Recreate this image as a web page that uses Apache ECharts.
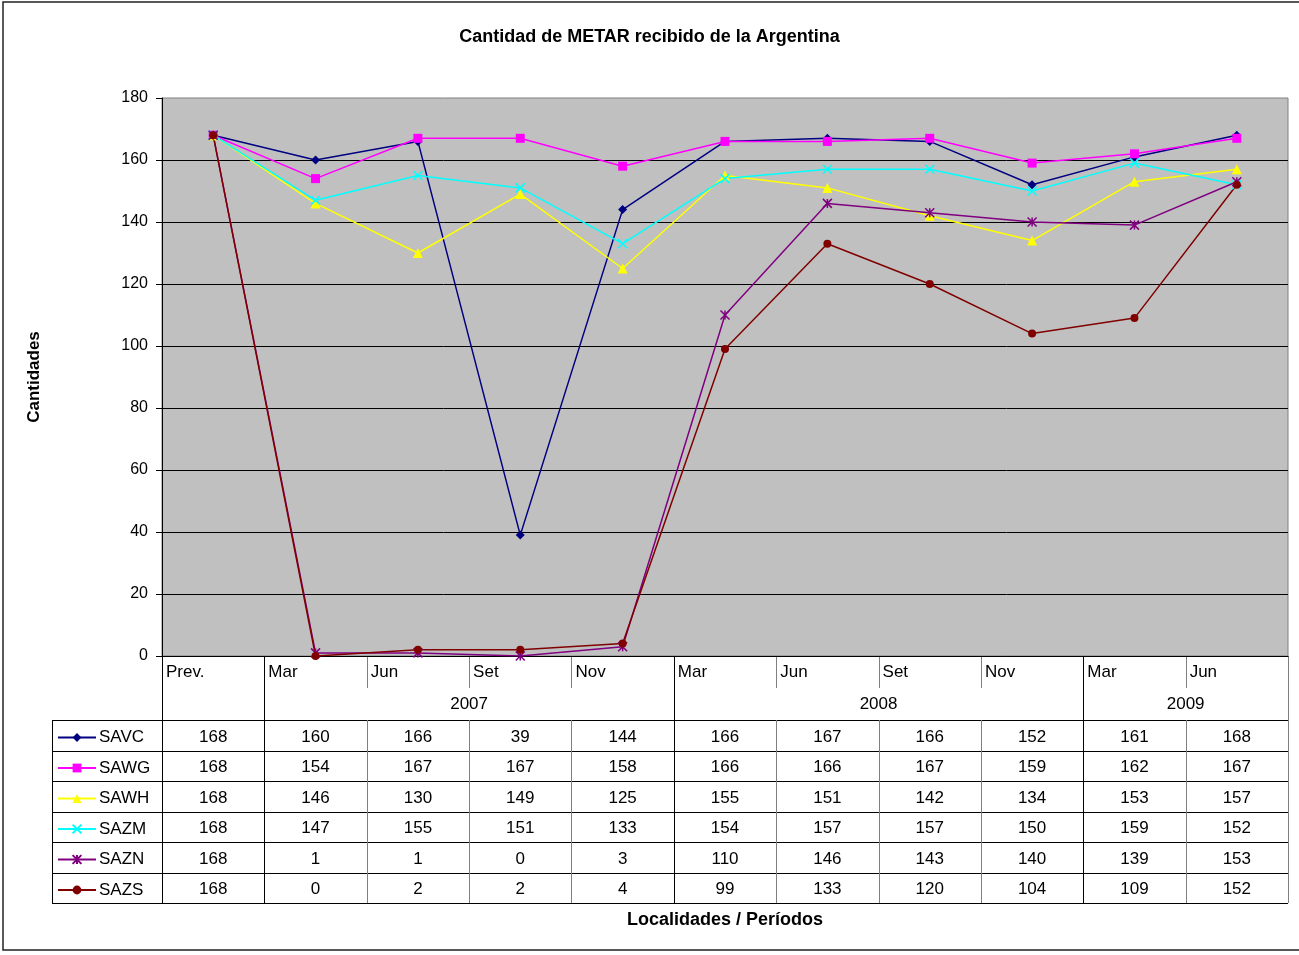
<!DOCTYPE html>
<html>
<head>
<meta charset="utf-8">
<script src="https://cdn.jsdelivr.net/npm/echarts@6/dist/echarts.min.js"></script>
<style>
  html, body { margin: 0; padding: 0; background: #fff; }
  #chart { width: 1299px; height: 955px; }
</style>
</head>
<body>
<div id="chart"></div>
<script>
// periodos (eje X)
var months = ['Prev.', 'Mar', 'Jun', 'Set', 'Nov', 'Mar', 'Jun', 'Set', 'Nov', 'Mar', 'Jun'];
// años: [etiqueta, indice desde, indice hasta]
var years = [['2007', 1, 4], ['2008', 5, 8], ['2009', 9, 10]];
var yTicks = [0, 20, 40, 60, 80, 100, 120, 140, 160, 180];

var SAVC = [168, 160, 166, 39, 144, 166, 167, 166, 152, 161, 168];
var SAWG = [168, 154, 167, 167, 158, 166, 166, 167, 159, 162, 167];
var SAWH = [168, 146, 130, 149, 125, 155, 151, 142, 134, 153, 157];
var SAZM = [168, 147, 155, 151, 133, 154, 157, 157, 150, 159, 152];
var SAZN = [168, 1, 1, 0, 3, 110, 146, 143, 140, 139, 153];
var SAZS = [168, 0, 2, 2, 4, 99, 133, 120, 104, 109, 152];

var FONT = 'Arial, "Liberation Sans", sans-serif';
var GL = 162, GR = 1288, GT = 98, GB = 656;   // area del grafico
var HEAD_B = 720, ROW_H = 30.5, LEG_L = 52;

var seriesDefs = [
  { name: 'SAVC', data: SAVC, color: '#000080', symbol: 'diamond', size: 9 },
  { name: 'SAWG', data: SAWG, color: '#FF00FF', symbol: 'rect', size: 9 },
  { name: 'SAWH', data: SAWH, color: '#FFFF00', symbol: 'triangle', size: 10 },
  { name: 'SAZM', data: SAZM, color: '#00FFFF', symbol: 'path://M0,0L10,10M10,0L0,10', size: 9, stroke: true },
  { name: 'SAZN', data: SAZN, color: '#800080', symbol: 'path://M0,0L10,10M10,0L0,10M5,0L5,10', size: 9, stroke: true },
  { name: 'SAZS', data: SAZS, color: '#800000', symbol: 'circle', size: 8 }
];

var chart = echarts.init(document.getElementById('chart'));

var series = seriesDefs.map(function (s) {
  return {
    name: s.name,
    type: 'line',
    data: s.data,
    symbol: s.symbol,
    symbolSize: s.size,
    showAllSymbol: true,
    animation: false,
    lineStyle: { color: s.color, width: 1.5 },
    itemStyle: s.stroke
      ? { color: 'rgba(0,0,0,0)', borderColor: s.color, borderWidth: 1.5 }
      : { color: s.color, borderWidth: 0 }
  };
});

// tabla de datos
var graphic = [];
var cw = (GR - GL) / months.length;
var tableBottom = HEAD_B + ROW_H * seriesDefs.length;
function hline(x1, x2, y, c) {
  graphic.push({ type: 'line', shape: { x1: x1, y1: y, x2: x2, y2: y }, style: { stroke: c || '#000', lineWidth: 1 }, silent: true });
}
function vline(x, y1, y2, c) {
  graphic.push({ type: 'line', shape: { x1: x, y1: y1, x2: x, y2: y2 }, style: { stroke: c || '#000', lineWidth: 1 }, silent: true });
}
function txt(x, y, t, align, bold, size) {
  graphic.push({ type: 'text', x: x, y: y, silent: true,
    style: { text: t, fill: '#000', font: (bold ? 'bold ' : '') + (size || 17) + 'px ' + FONT, textAlign: align || 'center', textVerticalAlign: 'middle' } });
}

// marco exterior
graphic.push({ type: 'rect', shape: { x: 3, y: 2, width: 1320, height: 948 }, style: { fill: 'none', stroke: '#222', lineWidth: 1.5 }, silent: true });

for (var r = 0; r <= seriesDefs.length; r++) hline(LEG_L, GR, Math.round(HEAD_B + r * ROW_H) + 0.5);
vline(LEG_L + 0.5, HEAD_B, tableBottom);
vline(GL + 0.5, GB, tableBottom);
vline(GR + 0.5, GB, tableBottom, '#808080');

var groupStarts = years.map(function (y) { return y[1]; });
for (var k = 1; k < months.length; k++) {
  var x = Math.round(GL + k * cw) + 0.5;
  if (groupStarts.indexOf(k) >= 0) {
    vline(x, GB, tableBottom);
  } else {
    vline(x, GB, 688, '#808080');
    vline(x, HEAD_B, tableBottom, '#808080');
  }
}
months.forEach(function (m, i) { txt(GL + i * cw + 4, 672, m, 'left'); });
years.forEach(function (y) { txt(GL + (y[1] + y[2] + 1) / 2 * cw, 704, y[0]); });
seriesDefs.forEach(function (s, r) {
  s.data.forEach(function (v, i) {
    txt(GL + (i + 0.5) * cw, HEAD_B + (r + 0.5) * ROW_H + 2, String(v));
  });
});
txt((GL + GR) / 2, 920, 'Localidades / Períodos', 'center', true, 18);

chart.setOption({
  animation: false,
  backgroundColor: '#fff',
  title: {
    text: 'Cantidad de METAR recibido de la Argentina',
    left: 'center',
    top: 23,
    textStyle: { fontFamily: FONT, fontSize: 18, fontWeight: 'bold', color: '#000' }
  },
  legend: {
    orient: 'vertical',
    left: 57,
    top: HEAD_B + 9,
    padding: 0,
    itemWidth: 38,
    itemHeight: 11,
    itemGap: ROW_H - 17,
    textStyle: { fontFamily: FONT, fontSize: 17, color: '#000', lineHeight: 17, padding: [0, 0, 0, -2] },
    selectedMode: false,
    data: seriesDefs.map(function (s) { return s.name; })
  },
  grid: {
    left: GL, right: 1299 - GR, top: GT, bottom: 955 - GB,
    show: true, backgroundColor: '#C0C0C0', borderColor: '#808080', borderWidth: 1
  },
  xAxis: {
    type: 'category',
    data: months,
    boundaryGap: true,
    axisLine: { show: true, lineStyle: { color: '#000', width: 1 } },
    axisTick: { show: false },
    axisLabel: { show: false },
    splitLine: { show: false }
  },
  yAxis: {
    type: 'value',
    min: yTicks[0],
    max: yTicks[yTicks.length - 1],
    interval: yTicks[1] - yTicks[0],
    name: 'Cantidades',
    nameLocation: 'middle',
    nameGap: 119,
    nameRotate: 90,
    nameTextStyle: { fontFamily: FONT, fontSize: 17, fontWeight: 'bold', color: '#000' },
    axisLine: { show: true, lineStyle: { color: '#000', width: 1 } },
    axisTick: { show: true, length: 6, lineStyle: { color: '#000' } },
    axisLabel: { fontFamily: FONT, fontSize: 16, color: '#000', margin: 14 },
    splitLine: { show: true, showMaxLine: false, lineStyle: { color: '#000', width: 1 } }
  },
  graphic: graphic,
  series: series
});
</script>
</body>
</html>
